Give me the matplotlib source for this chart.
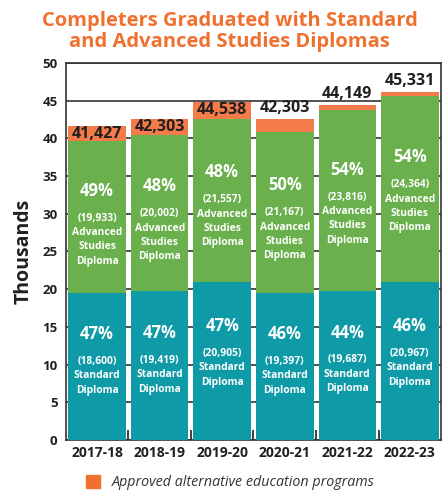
import numpy as np
import matplotlib
matplotlib.use("Agg")
import matplotlib.pyplot as plt
import matplotlib.patches as mpatches

plt.rcParams['font.family'] = ['Open Sans', 'DejaVu Sans']

years = ['2017-18', '2018-19', '2019-20', '2020-21', '2021-22', '2022-23']
# bar heights in thousands
standard = [19.5, 19.7, 21.0, 19.5, 19.8, 21.0]
advanced = [20.2, 20.8, 21.6, 21.3, 23.9, 24.6]
alternative = [1.9, 2.0, 2.2, 1.7, 0.7, 0.6]
# text labels
totals = ['41,427', '42,303', '44,538', '42,303', '44,149', '45,331']
std_pct = ['47%', '47%', '47%', '46%', '44%', '46%']
std_cnt = ['18,600', '19,419', '20,905', '19,397', '19,687', '20,967']
adv_pct = ['49%', '48%', '48%', '50%', '54%', '54%']
adv_cnt = ['19,933', '20,002', '21,557', '21,167', '23,816', '24,364']

teal = '#0e9aa7'
green = '#6ab04c'
orange = '#f47c4b'
title_orange = '#f07030'
dark = '#231f20'

fig = plt.figure(figsize=(4.42, 4.95), dpi=100)
ax = fig.add_axes([0.149, 0.111, 0.849, 0.762])

x = np.arange(len(years))
std = np.array(standard)
adv = np.array(advanced)
alt = np.array(alternative)
w = 0.92

ax.bar(x, std, w, color=teal, zorder=3)
ax.bar(x, adv, w, bottom=std, color=green, zorder=3)
ax.bar(x, alt, w, bottom=std + adv, color=orange, zorder=3)

top = std + adv + alt
for i in range(len(years)):
    # total label: inside orange cap when it is tall enough, else above
    if alt[i] > 1.8:
        ax.text(x[i], top[i] - 1.05, totals[i], ha='center', va='center',
                fontsize=11.5, fontweight='bold', color=dark, zorder=5)
    else:
        ax.text(x[i], top[i] + 0.4, totals[i], ha='center', va='bottom',
                fontsize=11.5, fontweight='bold', color=dark, zorder=5)

    # advanced studies segment
    yp = std[i] + adv[i] * 0.67
    ax.text(x[i], yp, adv_pct[i], ha='center', va='center', fontsize=12,
            fontweight='bold', color='white', zorder=5)
    ax.text(x[i], yp - 2.9, '(' + adv_cnt[i] + ')\nAdvanced\nStudies\nDiploma',
            ha='center', va='top', fontsize=7.4, fontweight='bold',
            color='white', linespacing=1.42, zorder=5)

    # standard segment
    yp = std[i] * 0.72
    ax.text(x[i], yp, std_pct[i], ha='center', va='center', fontsize=12,
            fontweight='bold', color='white', zorder=5)
    ax.text(x[i], yp - 2.9, '(' + std_cnt[i] + ')\nStandard\nDiploma',
            ha='center', va='top', fontsize=7.4, fontweight='bold',
            color='white', linespacing=1.42, zorder=5)

ax.set_xlim(-0.5, len(years) - 0.5)
ax.set_ylim(0, 50)
ax.set_yticks(np.arange(0, 51, 5))
ax.set_xticks(x)
ax.set_xticklabels(years, fontweight='bold', fontsize=10, color=dark)
for lab in ax.get_yticklabels():
    lab.set_fontweight('bold')
ax.tick_params(axis='y', labelsize=9.5, labelcolor=dark, length=0, pad=6)
ax.tick_params(axis='x', length=0, pad=4)
ax.set_xticks(x[:-1] + 0.5, minor=True)
ax.tick_params(axis='x', which='minor', direction='in', length=7, width=1.2, color=dark)

ax.grid(axis='y', color='#333333', linewidth=1.2, zorder=0)
for s in ax.spines.values():
    s.set_color('#333333')
    s.set_linewidth(1.2)

ax.set_ylabel('Thousands', fontsize=14, fontweight='bold', color=dark, labelpad=6)

fig.text(0.52, 0.978, 'Completers Graduated with Standard\nand Advanced Studies Diplomas',
         ha='center', va='top', fontsize=14.5, fontweight='bold', color=title_orange,
         linespacing=1.05)

handle = mpatches.Patch(color=title_orange, label='Approved alternative education programs')
leg = fig.legend(handles=[handle], loc='center', bbox_to_anchor=(0.52, 0.025),
                 frameon=False, handlelength=1.0, handleheight=1.0, fontsize=10.3)
for t in leg.get_texts():
    t.set_fontstyle('italic')
    t.set_color('#333333')

fig.savefig('out.png', dpi=100)
